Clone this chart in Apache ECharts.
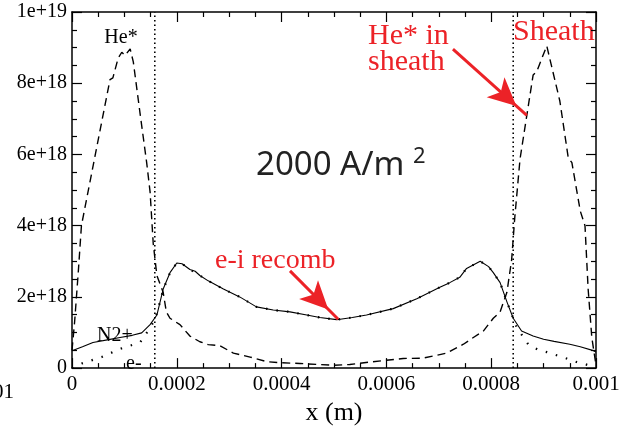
<!DOCTYPE html>
<html>
<head>
<meta charset="utf-8">
<script src="https://cdn.jsdelivr.net/npm/echarts@6/dist/echarts.min.js"></script>
<style>html,body{margin:0;padding:0;background:#fff}#c{width:628px;height:431px}</style>
</head>
<body>
<div id="c"></div>
<script>
// ---- data ----
const heX = [0,0.000005,0.000012,0.000018,0.0000452,0.0000725,0.000078,0.000088,0.000095,0.000101,0.000111,0.000117,0.00013,0.0001425,0.000149,0.000155,0.000162,0.000174,0.00018,0.000187,0.000206,0.000225,0.000244,0.00026,0.000282,0.000308,0.00034,0.000372,0.0004,0.000435,0.00047,0.0005,0.00053,0.000569,0.0006,0.000632,0.00067,0.000702,0.000715,0.000747,0.000766,0.000785,0.000804,0.000817,0.00083,0.000839,0.000845,0.000855,0.000868,0.00088,0.000887,0.000906,0.000931,0.000947,0.000954,0.00097,0.000979,0.000985,0.000992,0.001];
const heY = [0.5e18,1.3e18,2.7e18,4.0e18,6.05e18,8.1e18,8.15e18,8.7e18,8.87e18,8.78e18,8.96e18,8.6e18,7.14e18,5.77e18,4.95e18,3.5e18,2.6e18,2.13e18,1.58e18,1.4e18,1.22e18,0.9e18,0.74e18,0.66e18,0.63e18,0.42e18,0.31e18,0.18e18,0.15e18,0.13e18,0.1e18,0.08e18,0.1e18,0.17e18,0.22e18,0.27e18,0.28e18,0.38e18,0.42e18,0.67e18,0.86e18,1.04e18,1.4e18,1.58e18,2.13e18,3.04e18,4.23e18,5.87e18,7.1e18,8.23e18,8.33e18,9.05e18,7.5e18,5.91e18,5.77e18,4.41e18,4.0e18,2.22e18,0.86e18,0.08e18];

const n2X = [0,0.00002,0.00004,0.00007,0.0000916,0.000115,0.000133,0.000149,0.000162,0.000174,0.000187,0.0002,0.00021,0.000225,0.000235,0.000244,0.00026,0.000289,0.00032,0.000352,0.000384,0.000416,0.000448,0.000473,0.000505,0.000535,0.000562,0.000613,0.000658,0.000702,0.000721,0.00074,0.000753,0.000779,0.000795,0.000804,0.000817,0.00083,0.000842,0.000858,0.00088,0.0009,0.00092,0.00095,0.00097,0.000995,0.001];
const n2Y = [0.49e18,0.6e18,0.72e18,0.8e18,0.86e18,0.92e18,0.99e18,1.22e18,1.49e18,2.22e18,2.68e18,2.95e18,2.93e18,2.77e18,2.72e18,2.6e18,2.45e18,2.22e18,2.0e18,1.72e18,1.63e18,1.58e18,1.49e18,1.42e18,1.36e18,1.42e18,1.49e18,1.67e18,1.95e18,2.27e18,2.4e18,2.55e18,2.8e18,3.0e18,2.85e18,2.68e18,2.4e18,1.86e18,1.4e18,1.04e18,0.9e18,0.81e18,0.75e18,0.67e18,0.6e18,0.49e18,0.45e18];

const eX = [0,0.0000185,0.0000567,0.0000916,0.00013,0.000149,0.000158,0.000168,0.000174,0.000187,0.0002,0.00021,0.000225,0.000244,0.00026,0.000289,0.00032,0.000352,0.000384,0.000416,0.000448,0.000473,0.000505,0.000535,0.000562,0.000613,0.000658,0.000702,0.000721,0.00074,0.000753,0.000779,0.000795,0.000804,0.000817,0.00083,0.000842,0.000849,0.000871,0.00089,0.000906,0.000925,0.000944,0.000963,0.000979,0.001];
const eY = [0.0,0.13e18,0.31e18,0.54e18,0.72e18,1.13e18,1.36e18,1.86e18,2.2e18,2.68e18,2.95e18,2.93e18,2.77e18,2.6e18,2.45e18,2.22e18,2.0e18,1.72e18,1.63e18,1.58e18,1.49e18,1.42e18,1.36e18,1.42e18,1.49e18,1.67e18,1.95e18,2.27e18,2.4e18,2.55e18,2.8e18,3.0e18,2.85e18,2.68e18,2.4e18,1.86e18,1.4e18,1.13e18,0.66e18,0.51e18,0.45e18,0.36e18,0.27e18,0.17e18,0.11e18,0.02e18];

const sheathX = [0.000158, 0.000842];
const xTickLabels = ['0','0.0002','0.0004','0.0006','0.0008','0.001'];
const yTickLabels = ['0','2e+18','4e+18','6e+18','8e+18','1e+19'];
const arrowRecomb = [[0.000416, 2.73e18],[0.000508, 1.37e18]];
const arrowSheath = [[0.000727, 8.96e18],[0.000868, 7.1e18]];

// ---- chart ----
const zip = (xs, ys) => xs.map((x, i) => [x, ys[i]]);
const RED = '#ec2227';
const SERIF = 'Liberation Serif';

function xAx(pos, showLabel) {
  return {
    type: 'value', position: pos, min: 0, max: 0.001, interval: 0.0002,
    axisLine: {show: true, onZero: false, lineStyle: {color: '#000', width: 1.5}},
    axisTick: {show: true, inside: true, length: 10, lineStyle: {color: '#000', width: 1.2}},
    minorTick: {show: true, splitNumber: 4, length: 5, lineStyle: {color: '#000', width: 1.2}},
    splitLine: {show: false},
    axisLabel: {show: showLabel, margin: 6, color: '#000', fontFamily: SERIF, fontSize: 21,
      formatter: v => xTickLabels[Math.round(v / 0.0002)]},
    name: showLabel ? 'x (m)' : '', nameLocation: 'middle', nameGap: 26,
    nameTextStyle: {color: '#000', fontFamily: SERIF, fontSize: 26}
  };
}
function yAx(pos, showLabel) {
  return {
    type: 'value', position: pos, min: 0, max: 1e19, interval: 2e18,
    axisLine: {show: true, onZero: false, lineStyle: {color: '#000', width: 1.5}},
    axisTick: {show: true, inside: true, length: 10, lineStyle: {color: '#000', width: 1.2}},
    minorTick: {show: true, splitNumber: 4, length: 5, lineStyle: {color: '#000', width: 1.2}},
    splitLine: {show: false},
    axisLabel: {show: showLabel, margin: 5, color: '#000', fontFamily: SERIF, fontSize: 20,
      formatter: v => yTickLabels[Math.round(v / 2e18)]}
  };
}
const arrowLine = (a) => [{coord: a[0], symbol: 'none'}, {coord: a[1], symbol: 'arrow'}];

const sheathSeries = sheathX.map(x => ({
  type: 'line', data: [[x, 0], [x, 1e19]], showSymbol: false, silent: true,
  lineStyle: {color: '#000', width: 1.6, type: [1.5, 3]}
}));

const chart = echarts.init(document.getElementById('c'));
const option = {
  animation: false,
  grid: {left: 72, right: 32, top: 12, bottom: 53},
  xAxis: [xAx('bottom', true), xAx('top', false)],
  yAxis: [yAx('left', true), yAx('right', false)],
  series: sheathSeries.concat([
    {type: 'line', data: zip(eX, eY), showSymbol: false,
      lineStyle: {color: '#000', width: 2.2, type: [1.5, 9]}},
    {type: 'line', data: zip(n2X, n2Y), showSymbol: false,
      lineStyle: {color: '#000', width: 1.1}},
    {type: 'line', data: zip(heX, heY), showSymbol: false,
      lineStyle: {color: '#000', width: 1.4, type: [8, 5]},
      markLine: {silent: true, symbolSize: [20, 28], symbolOffset: [[0, 0], [0, 14]], label: {show: false},
        lineStyle: {color: RED, width: 3, type: 'solid'}, itemStyle: {color: RED},
        data: [arrowLine(arrowRecomb), arrowLine(arrowSheath)]}}
  ]),
  graphic: [
    {type: 'text', style: {text: '0.001', x: 14, y: 392, align: 'right', verticalAlign: 'middle', font: '21px "Liberation Serif"', fill: '#000'}},
    {type: 'text', style: {text: 'He*', x: 121, y: 38, align: 'center', verticalAlign: 'middle', font: '20px "Liberation Serif"', fill: '#000'}},
    {type: 'text', style: {text: 'N2+', x: 97, y: 336, align: 'left', verticalAlign: 'middle', font: '20px "Liberation Serif"', fill: '#000'}},
    {type: 'text', style: {text: 'e-', x: 126, y: 364, align: 'left', verticalAlign: 'middle', font: '20px "Liberation Serif"', fill: '#000'}},
    {type: 'text', style: {text: 'He* in', x: 368, y: 36, align: 'left', verticalAlign: 'middle', font: '30px "Liberation Serif"', fill: RED}},
    {type: 'text', style: {text: 'sheath', x: 368, y: 62, align: 'left', verticalAlign: 'middle', font: '30px "Liberation Serif"', fill: RED}},
    {type: 'text', style: {text: 'Sheath', x: 513, y: 32, align: 'left', verticalAlign: 'middle', font: '30px "Liberation Serif"', fill: RED}},
    {type: 'text', style: {text: 'e-i recomb', x: 215, y: 261, align: 'left', verticalAlign: 'middle', font: '28px "Liberation Serif"', fill: RED}},
    {type: 'text', style: {text: '2000 A/m', x: 256, y: 166, align: 'left', verticalAlign: 'middle', font: '33px "Noto Sans"', fill: '#222'}},
    {type: 'text', style: {text: '2', x: 413, y: 157, align: 'left', verticalAlign: 'middle', font: '22px "Noto Sans"', fill: '#222'}}
  ]
};
chart.setOption(option);
chart.setOption({xAxis: [xAx('bottom', true), xAx('top', false)], yAxis: [yAx('left', true), yAx('right', false)]});
</script>
</body>
</html>
